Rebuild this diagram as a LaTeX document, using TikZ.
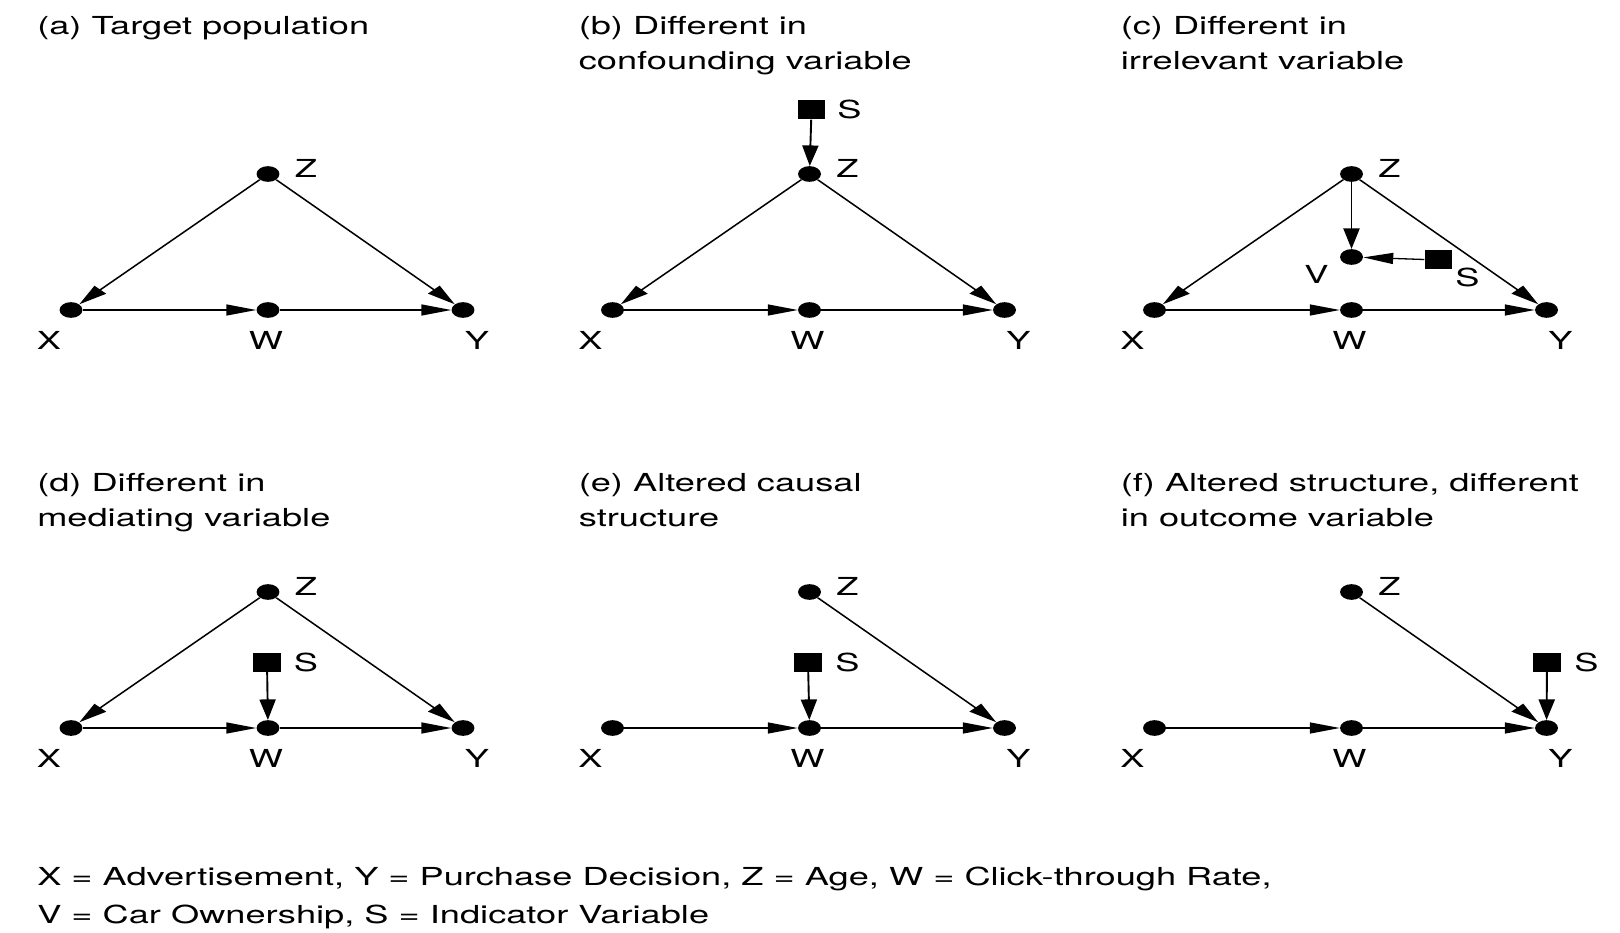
\documentclass[tikz,border=0pt]{standalone}
\usepackage{fontspec}
\setmainfont{TeX Gyre Heros}
\usetikzlibrary{arrows.meta}
\newcommand\basenodes[1]{%
  \node[dot] (#1Z) at (268,174) {};
  \node[dot] (#1X) at (71,310) {};
  \node[dot] (#1W) at (268,310) {};
  \node[dot] (#1Y) at (463,310) {};
  \node[lab] (#1Zl) at (306,168) {Z};
  \node[lab] (#1Xl) at (49,340) {X};
  \node[lab] (#1Wl) at (266,340) {W};
  \node[lab] (#1Yl) at (477,340) {Y};
}
\begin{document}
\begin{tikzpicture}[x=1pt,y=-1pt]
\fill[white] (0,0) rectangle (1620,933);
\useasboundingbox (0,0) rectangle (1620,933);
\begin{scope}[transform canvas={xscale=1.46}, x=0.684932pt, y=-1pt,
  dot/.style={circle,fill=black,inner sep=0pt,minimum size=15.7pt},
  sq/.style={rectangle,fill=black,inner sep=0pt,minimum size=19pt},
  lab/.style={inner sep=0pt,font=\fontsize{24.8}{30}\selectfont},
  ttl/.style={inner sep=0pt,anchor=base west,font=\fontsize{24.8}{30}\selectfont},
  edge/.style={line width=1.3pt,-{Triangle[length=20.5pt,width=11pt]}}]

% (a)
\begin{scope}
  \basenodes{a}
  \node[ttl] (ta1) at (37,35) {(a) Target population};
  \draw[edge] (aZ) -- (aX);
  \draw[edge] (aZ) -- (aY);
  \draw[edge] (aX) -- (aW);
  \draw[edge] (aW) -- (aY);
\end{scope}

% (b)
\begin{scope}[shift={(541.5,0)}]
  \basenodes{b}
  \node[ttl] (tb1) at (37,35) {(b) Different in};
  \node[ttl] (tb2) at (37,70) {confounding variable};
  \node[sq] (bS) at (270,110) {};
  \node[lab] (bSl) at (308,109) {S};
  \draw[edge] (bS) -- (bZ);
  \draw[edge] (bZ) -- (bX);
  \draw[edge] (bZ) -- (bY);
  \draw[edge] (bX) -- (bW);
  \draw[edge] (bW) -- (bY);
\end{scope}

% (c)
\begin{scope}[shift={(1083.5,0)}]
  \basenodes{c}
  \node[ttl] (tc1) at (37,35) {(c) Different in};
  \node[ttl] (tc2) at (37,70) {irrelevant variable};
  \node[dot] (cV) at (268,257) {};
  \node[sq] (cS) at (355,260) {};
  \node[lab] (cVl) at (233,274) {V};
  \node[lab] (cSl) at (384,277) {S};
  \draw[edge] (cZ) -- (cX);
  \draw[edge] (cZ) -- (cY);
  \draw[edge] (cZ) -- (cV);
  \draw[edge] (cS) -- (cV);
  \draw[edge] (cX) -- (cW);
  \draw[edge] (cW) -- (cY);
\end{scope}

% (d)
\begin{scope}[shift={(0,418)}]
  \basenodes{d}
  \node[ttl] (td1) at (37,73) {(d) Different in};
  \node[ttl] (td2) at (37,108) {mediating variable};
  \node[sq] (dS) at (267,244) {};
  \node[lab] (dSl) at (306,244) {S};
  \draw[edge] (dZ) -- (dX);
  \draw[edge] (dZ) -- (dY);
  \draw[edge] (dX) -- (dW);
  \draw[edge] (dW) -- (dY);
  \draw[edge] (dS) -- (dW);
\end{scope}

% (e)
\begin{scope}[shift={(541.5,418)}]
  \basenodes{e}
  \node[ttl] (te1) at (37,73) {(e) Altered causal};
  \node[ttl] (te2) at (37,108) {structure};
  \node[sq] (eS) at (266.5,244) {};
  \node[lab] (eSl) at (306,244) {S};
  \draw[edge] (eZ) -- (eY);
  \draw[edge] (eX) -- (eW);
  \draw[edge] (eW) -- (eY);
  \draw[edge] (eS) -- (eW);
\end{scope}

% (f)
\begin{scope}[shift={(1083.5,418)}]
  \basenodes{f}
  \node[ttl] (tf1) at (37,73) {(f) Altered structure, different};
  \node[ttl] (tf2) at (37,108) {in outcome variable};
  \node[sq] (fS) at (463.5,244) {};
  \node[lab] (fSl) at (503,244) {S};
  \draw[edge] (fZ) -- (fY);
  \draw[edge] (fX) -- (fW);
  \draw[edge] (fW) -- (fY);
  \draw[edge] (fS) -- (fY);
\end{scope}

% legend
\node[ttl] (leg1) at (37,885) {X = Advertisement, Y = Purchase Decision, Z = Age, W = Click-through Rate,};
\node[ttl] (leg2) at (37,923) {V = Car Ownership, S = Indicator Variable};
\end{scope}
\end{tikzpicture}
\end{document}
